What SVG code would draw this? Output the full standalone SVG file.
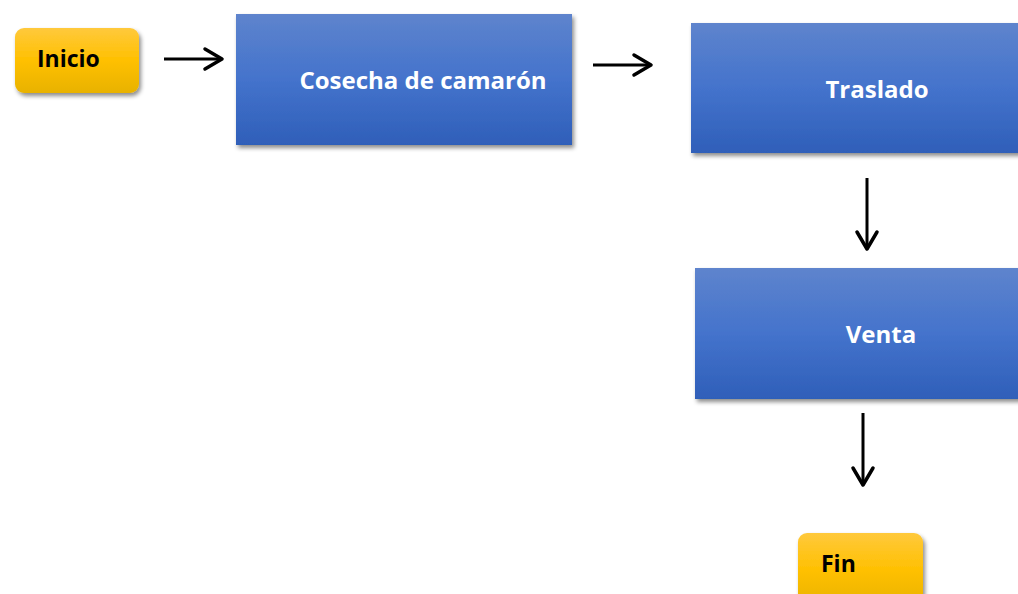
<svg xmlns="http://www.w3.org/2000/svg" width="1018" height="594" viewBox="0 0 1018 594">
<style>
.lbl{font-family:"Open Sans","Liberation Sans",sans-serif;font-weight:bold;font-size:24px}
.sm{font-size:23px}
.w{fill:#ffffff}
.k{fill:#000000}
.conn{stroke:#000;stroke-width:3;fill:none}
.head{stroke:#000;stroke-width:3.5;fill:none;stroke-linecap:round;stroke-linejoin:round}
</style>
<defs>
<linearGradient id="blue" x1="0" y1="0" x2="0" y2="1">
<stop offset="0" stop-color="#5e84cd"/>
<stop offset="0.5" stop-color="#4473cc"/>
<stop offset="1" stop-color="#2f5fb9"/>
</linearGradient>
<linearGradient id="gold" x1="0" y1="0" x2="0" y2="1">
<stop offset="0" stop-color="#ffc93c"/>
<stop offset="0.5" stop-color="#ffc000"/>
<stop offset="1" stop-color="#e8b200"/>
</linearGradient>
<filter id="sh" x="-10%" y="-10%" width="125%" height="130%">
<feDropShadow dx="2" dy="3" stdDeviation="2.2" flood-color="#000" flood-opacity="0.45"/>
</filter>
</defs>
<rect width="1018" height="594" fill="#ffffff"/>
<g id="inicio">
<rect x="15" y="28" width="124" height="65" rx="9" fill="url(#gold)" filter="url(#sh)"/>
<text class="lbl sm k" x="37" y="67">Inicio</text>
</g>
<g id="cosecha">
<rect x="236" y="14" width="336" height="131" fill="url(#blue)" filter="url(#sh)"/>
<text class="lbl w" x="423" y="89" text-anchor="middle">Cosecha de camarón</text>
</g>
<g id="traslado">
<rect x="691" y="23" width="340" height="130" fill="url(#blue)" filter="url(#sh)"/>
<text class="lbl w" x="877" y="98" text-anchor="middle">Traslado</text>
</g>
<g id="venta">
<rect x="695" y="268" width="340" height="131" fill="url(#blue)" filter="url(#sh)"/>
<text class="lbl w" x="881" y="343" text-anchor="middle">Venta</text>
</g>
<g id="fin">
<rect x="798" y="533" width="125" height="75" rx="9" fill="url(#gold)" filter="url(#sh)"/>
<text class="lbl sm k" x="821" y="572">Fin</text>
</g>
<g id="connectors">
<line class="conn" x1="164" y1="59" x2="222" y2="59"/>
<polyline class="head" points="205,49 222,59 205,69"/>
<line class="conn" x1="593" y1="65" x2="651" y2="65"/>
<polyline class="head" points="634,55 651,65 634,75"/>
<line class="conn" x1="867" y1="178" x2="867" y2="249"/>
<polyline class="head" points="857,232 867,249 877,232"/>
<line class="conn" x1="863" y1="413" x2="863" y2="485"/>
<polyline class="head" points="853,468 863,485 873,468"/>
</g>
</svg>
